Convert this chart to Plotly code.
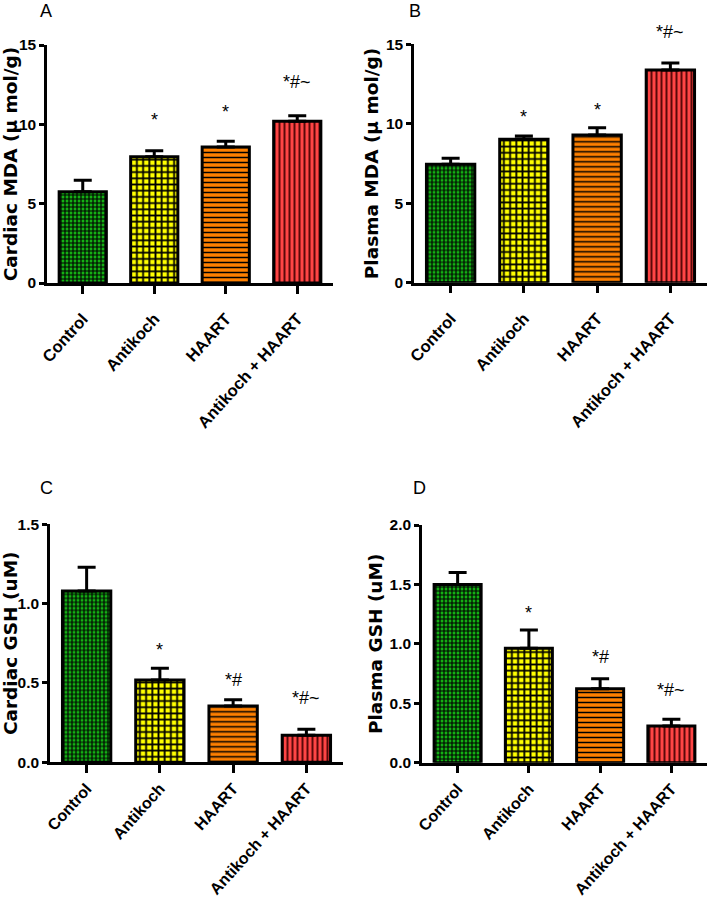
import plotly.graph_objects as go

categories = ["Control", "Antikoch", "HAART", "Antikoch + HAART"]

cardiac_mda = [5.75, 7.96, 8.57, 10.20]
cardiac_mda_sem = [0.72, 0.38, 0.36, 0.34]
plasma_mda = [7.45, 9.02, 9.29, 13.38]
plasma_mda_sem = [0.38, 0.21, 0.46, 0.44]
cardiac_gsh = [1.079, 0.519, 0.355, 0.170]
cardiac_gsh_sem = [0.150, 0.073, 0.039, 0.038]
plasma_gsh = [1.50, 0.963, 0.623, 0.309]
plasma_gsh_sem = [0.100, 0.154, 0.084, 0.056]

sig_mda_cardiac = ["", "*", "*", "*#~"]
sig_mda_plasma = ["", "*", "*", "*#~"]
sig_gsh_cardiac = ["", "*", "*#", "*#~"]
sig_gsh_plasma = ["", "*", "*#", "*#~"]

panel_letters = ["A", "B", "C", "D"]
y_titles = ["Cardiac MDA (\u00b5 mol/g)", "Plasma MDA (\u00b5 mol/g)",
            "Cardiac GSH (uM)", "Plasma GSH (uM)"]

# ---- styles ----
W, H = 709, 901
bar_bg = ["#14b014", "#ffff00", "#ff8000", "#ff4545"]
bar_fg = ["#000000", "#000000", "#000000", "#5a0808"]
bar_shape = ["+", "+", "-", "|"]
bar_size = [4.0, 6.2, 5.0, 5.0]
bar_solid = [0.5, 0.5, 0.3, 0.4]

TICKFONT = dict(family="Liberation Sans, Arial", size=15.5, color="black", weight="bold")
TITLEFONT = dict(family="DejaVu Sans, Liberation Sans", size=18.5, color="black", weight="bold")
SIGFONT = dict(family="Liberation Sans, Arial", size=18, color="black")
LETTERFONT = dict(family="Liberation Sans, Arial", size=18, color="black")

# pixel boxes in the reference picture: (x0, x1, ytop, ybottom)
panels_px = [(47, 333, 45, 283), (414, 707, 44.3, 282.7),
             (50, 343, 524.3, 762.3), (422, 707, 525, 762.7)]
y_ranges = [[0, 15], [0, 15], [0, 1.5], [0, 2.0]]
y_dticks = [5, 5, 0.5, 0.5]
y_formats = ["d", "d", ".1f", ".1f"]
sig_shift = [[0, 31, 29, 34], [0, 19, 18, 31], [0, 18, 20, 31], [0, 17, 22, 29]]
letter_px = [(46, 11), (415, 11), (47, 488), (419, 488)]
x_label_gap = [9, 9, 0, 0]
x_label_size = [16.5, 16.5, 16, 16]


def fx(px):
    return px / W


def fy(py):
    return 1 - py / H


datasets = [(cardiac_mda, cardiac_mda_sem, sig_mda_cardiac),
            (plasma_mda, plasma_mda_sem, sig_mda_plasma),
            (cardiac_gsh, cardiac_gsh_sem, sig_gsh_cardiac),
            (plasma_gsh, plasma_gsh_sem, sig_gsh_plasma)]

fig = go.Figure()
annotations = []
layout_axes = {}

for p, (vals, sems, sigs) in enumerate(datasets):
    n = p + 1
    xa = "x" if n == 1 else f"x{n}"
    ya = "y" if n == 1 else f"y{n}"
    for i, cat in enumerate(categories):
        fig.add_trace(go.Bar(
            x=[cat], y=[vals[i]], xaxis=xa, yaxis=ya, width=0.66,
            marker=dict(
                color=bar_bg[i],
                line=dict(color="black", width=3),
                pattern=dict(shape=bar_shape[i], fgcolor=bar_fg[i], bgcolor=bar_bg[i],
                             size=bar_size[i], solidity=bar_solid[i],
                             fillmode="overlay", fgopacity=1),
            ),
            error_y=dict(type="data", array=[sems[i]], arrayminus=[0],
                         symmetric=False, color="black", thickness=3, width=9),
            showlegend=False, hoverinfo="skip",
        ))
    x0, x1, yt, yb = panels_px[p]
    xkey = "xaxis" if n == 1 else f"xaxis{n}"
    ykey = "yaxis" if n == 1 else f"yaxis{n}"
    layout_axes[xkey] = dict(
        domain=[fx(x0), fx(x1)], anchor=ya, range=[-0.5, 3.5],
        categoryorder="array", categoryarray=categories,
        showline=True, linecolor="black", linewidth=2.5, mirror=False,
        ticks="outside", ticklen=8, tickwidth=2.5, tickcolor="black",
        tickangle=-48,
        tickfont=dict(family="Liberation Sans, Arial", size=x_label_size[p],
                      color="black", weight="bold"),
        ticklabelstandoff=x_label_gap[p],
        showgrid=False, zeroline=False,
        fixedrange=True, automargin=False,
    )
    layout_axes[ykey] = dict(
        domain=[fy(yb), fy(yt)], anchor=xa, range=y_ranges[p],
        dtick=y_dticks[p], tick0=0, tickformat=y_formats[p],
        showline=True, linecolor="black", linewidth=2.5,
        ticks="outside", ticklen=5, tickwidth=2.5, tickcolor="black",
        tickfont=TICKFONT, showgrid=False, zeroline=False,
        title=dict(text=y_titles[p], font=TITLEFONT, standoff=3),
        fixedrange=True, automargin=False,
    )
    for i, s in enumerate(sigs):
        if s:
            annotations.append(dict(
                x=categories[i], y=vals[i] + sems[i], xref=xa, yref=ya,
                text=s, showarrow=False, font=SIGFONT,
                yanchor="middle", yshift=sig_shift[p][i],
            ))
    lx, ly = letter_px[p]
    annotations.append(dict(
        x=fx(lx), y=fy(ly), xref="paper", yref="paper",
        text=panel_letters[p], showarrow=False, font=LETTERFONT,
        xanchor="center", yanchor="middle",
    ))

fig.update_layout(
    width=W, height=H, margin=dict(l=0, r=0, t=0, b=0, pad=0, autoexpand=False),
    paper_bgcolor="white", plot_bgcolor="white",
    barmode="overlay", annotations=annotations, **layout_axes,
)

fig.write_html(
    "out.html",
    config={"displayModeBar": False},
    post_script="document.body.style.margin='0px';document.body.style.overflow='hidden';",
)
